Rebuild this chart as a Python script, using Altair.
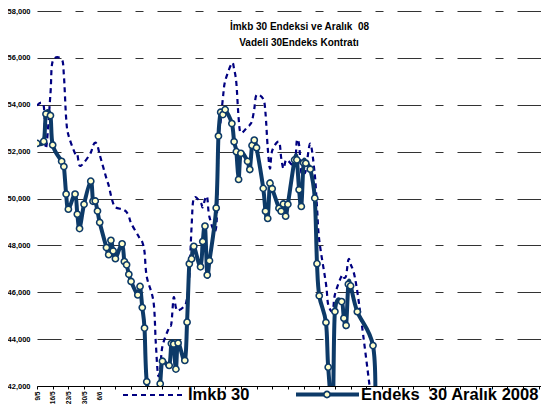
import altair as alt
import pandas as pd

# ---- data ----
dates = [
    "2008-05-09", "2008-05-12", "2008-05-13", "2008-05-15", "2008-05-16",
    "2008-05-20", "2008-05-21", "2008-05-22", "2008-05-23", "2008-05-26",
    "2008-05-27", "2008-05-28", "2008-05-30", "2008-06-02", "2008-06-03",
    "2008-06-04", "2008-06-05", "2008-06-06", "2008-06-09", "2008-06-10",
    "2008-06-11", "2008-06-12", "2008-06-13", "2008-06-16", "2008-06-17",
    "2008-06-18", "2008-06-19", "2008-06-20", "2008-06-23", "2008-06-24",
    "2008-06-25", "2008-06-26", "2008-06-27", "2008-06-30", "2008-07-01",
    "2008-07-02", "2008-07-03", "2008-07-04", "2008-07-07", "2008-07-08",
    "2008-07-09", "2008-07-10", "2008-07-11", "2008-07-14", "2008-07-15",
    "2008-07-16", "2008-07-17", "2008-07-18", "2008-07-21", "2008-07-22",
    "2008-07-23", "2008-07-24", "2008-07-25", "2008-07-28", "2008-07-29",
    "2008-07-30", "2008-07-31", "2008-08-01", "2008-08-04", "2008-08-05",
    "2008-08-06", "2008-08-07", "2008-08-08", "2008-08-11", "2008-08-12",
    "2008-08-13", "2008-08-14", "2008-08-15", "2008-08-18", "2008-08-19",
    "2008-08-20", "2008-08-21", "2008-08-22", "2008-08-25", "2008-08-26",
    "2008-08-27", "2008-08-28", "2008-08-29", "2008-09-01", "2008-09-02",
    "2008-09-03", "2008-09-04", "2008-09-05", "2008-09-06", "2008-09-08",
    "2008-09-10", "2008-09-11", "2008-09-12", "2008-09-15", "2008-09-16",
    "2008-09-18", "2008-09-19", "2008-09-22", "2008-09-23", "2008-09-24",
    "2008-09-25", "2008-09-26", "2008-09-29", "2008-10-06", "2008-10-07",
]

endeks = [
    52351, 52436, 53609, 53537, 52283,
    51588, 51364, 50190, 49542, 50190,
    49330, 48716, 49754, 50741, 49881,
    49894, 49466, 48978, 47906, 47601,
    48216, 47762, 47432, 48067, 47309,
    47169, 46767, 46462, 45885, 46250,
    45347, 44470, 42182, 40800, 40500,
    41000, 42097, 43059, 42877, 43809,
    43790, 42720, 43835, 43089, 44724,
    47212, 47423, 47961, 47084, 48165,
    48822, 46733, 47347, 49597, 52665,
    53681, 53580, 53792, 53198, 52423,
    51999, 50813, 51927, 51588, 51237,
    52266, 52495, 52169, 50432, 49457,
    49148, 50656, 50419, 49584, 49457,
    49767, 49245, 49754, 51648, 51648,
    50377, 49661, 51521, 51504, 51250,
    50016, 47220, 45847, 44712, 42805,
    41000, 45178, 45601, 44894, 44585,
    46343, 46271, 45169, 43724, 41000,
]

imkb = [
    53960, 53950, 52130, 54457, 55855,
    55940, 55262, 53440, 52720, 51915,
    51872, 51406, 51533, 51957, 52254,
    52381, 52254, 51872, 50855, 50559,
    50135, 49796, 49627, 49542, 49499,
    49415, 49245, 48949, 48440, 48271,
    48144, 47720, 46660, 45600, 43900,
    42500, 42700, 43700, 44500, 44669,
    45771, 45347, 45220, 45432, 45771,
    46661, 48779, 50008, 49838, 49627,
    49966, 50050, 49203, 48779, 52381,
    53313, 54287, 55008, 55770, 55516,
    54923, 53440, 52804, 53059, 53143,
    53313, 53821, 54414, 54245, 53652,
    52169, 51279, 52042, 52423, 51745,
    51279, 51618, 51618, 51449, 52465,
    52296, 51110, 51110, 51194, 52338,
    51025, 49627, 48228, 46364, 45474,
    45200, 45898, 46703, 46618, 46703,
    47381, 47212, 46025, 40800, 39500,
]

y_ticks = [42000, 44000, 46000, 48000, 50000, 52000, 54000, 56000, 58000]
x_first_labels = 5  # only the first five weekly labels are shown
title_lines = ["İmkb 30 Endeksi ve Aralık \u00a008", "Vadeli 30Endeks Kontratı"]
legend_labels = ["İmkb 30", "Endeks \u00a030 Aralık 2008"]

df = pd.DataFrame({"tarih": dates, "endeks": endeks, "imkb": imkb})


def ms(s):
    return int(pd.Timestamp(s, tz="UTC").value // 10**6)


tick_ms = [ms(t) for t in pd.date_range("2008-05-09", "2008-12-19", freq="7D")]
label_cut = tick_ms[x_first_labels - 1]

FONT = "Liberation Sans"
DARK = "#0D3A68"
NAVY = "#000080"

x_scale = alt.Scale(type="utc", domain=[ms("2008-05-09"), ms("2008-12-20")])
y_scale = alt.Scale(domain=[42000, 58000], nice=False, zero=False)

x_axis = alt.Axis(
    values=tick_ms,
    labelExpr=f"datum.value <= {label_cut} ? utcFormat(datum.value, '%-d/%-m') : ''",
    labelAngle=270, labelFont=FONT, labelFontSize=6.5, labelFontWeight="bold",
    labelColor="black", labelPadding=2, labelOverlap=False,
    tickSize=3, tickColor="black", domainColor="black", domainWidth=1,
    grid=False, zindex=1, title=None,
)
y_axis = alt.Axis(
    values=y_ticks, format=",d", grid=True, gridDash=[24, 14, 8, 14],
    gridColor="#333333", gridWidth=1, domain=False, ticks=False,
    labelFont=FONT, labelFontSize=7.5, labelFontWeight="bold",
    labelColor="black", labelPadding=7, title=None,
)

X = alt.X("tarih:T", scale=x_scale, axis=x_axis, title=None)

base = alt.Chart(df)

imkb_line = base.mark_line(
    interpolate="cardinal", strokeDash=[5, 4], color=NAVY, strokeWidth=2.2, clip=True
).encode(
    x=X,
    y=alt.Y("imkb:Q", scale=y_scale, axis=y_axis, title=None),
)

endeks_line = base.mark_line(
    interpolate="cardinal", color=DARK, strokeWidth=4, clip=True
).encode(
    x=X,
    y=alt.Y("endeks:Q", scale=y_scale, axis=y_axis, title=None),
)

endeks_pts = base.mark_point(
    shape="circle", filled=True, fill="#FFFFCC", stroke=DARK, strokeWidth=1.6,
    size=38, opacity=1, clip=True
).encode(
    x=X,
    y=alt.Y("endeks:Q", scale=y_scale, axis=y_axis, title=None),
)

one = alt.Data(values=[{"k": 1}])

title1 = alt.Chart(one).mark_text(
    font=FONT, fontSize=10, fontWeight="bold", align="center", baseline="middle", color="black"
).encode(x=alt.value(262.5), y=alt.value(15.7), text=alt.value(title_lines[0]))
title2 = alt.Chart(one).mark_text(
    font=FONT, fontSize=10, fontWeight="bold", align="center", baseline="middle", color="black"
).encode(x=alt.value(262), y=alt.value(32.3), text=alt.value(title_lines[1]))

leg_dash = alt.Chart(one).mark_rule(strokeDash=[5, 4], color=NAVY, strokeWidth=2.2).encode(
    x=alt.value(86), x2=alt.value(148), y=alt.value(384)
)
leg_text1 = alt.Chart(one).mark_text(
    font=FONT, fontSize=16.5, fontWeight="bold", align="left", baseline="alphabetic", color="black"
).encode(x=alt.value(151), y=alt.value(389), text=alt.value(legend_labels[0]))
leg_solid = alt.Chart(one).mark_rule(color=DARK, strokeWidth=4).encode(
    x=alt.value(259), x2=alt.value(322), y=alt.value(383.5)
)
leg_pt = alt.Chart(one).mark_point(
    shape="circle", filled=True, fill="#FFFFCC", stroke=DARK, strokeWidth=1.6, size=38, opacity=1
).encode(x=alt.value(290), y=alt.value(383.5))
leg_text2 = alt.Chart(one).mark_text(
    font=FONT, fontSize=16.5, fontWeight="bold", align="left", baseline="alphabetic", color="black"
).encode(x=alt.value(324), y=alt.value(389), text=alt.value(legend_labels[1]))

chart = alt.layer(
    imkb_line, endeks_line, endeks_pts,
    title1, title2, leg_dash, leg_text1, leg_solid, leg_pt, leg_text2,
).properties(
    width=504, height=375,
    autosize=alt.AutoSizeParams(type="none"),
    padding={"left": 29, "top": 3, "right": 0, "bottom": 18},
    background="white",
).configure_view(stroke=None)

chart.save("out.html", embed_options={"renderer": "svg", "actions": False})
